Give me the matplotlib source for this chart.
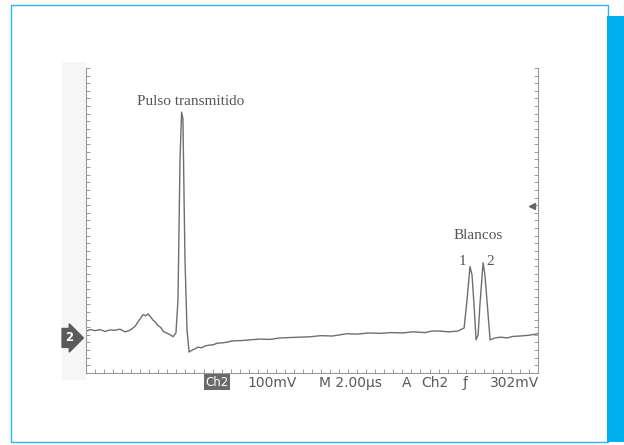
import numpy as np
import matplotlib.pyplot as plt
from matplotlib.patches import Rectangle

# oscilloscope trace, time in microseconds, voltage in mV (ground = 0)
t_us = [0.0, 0.20, 0.40, 0.62, 0.84, 1.06, 1.28, 1.50, 1.73, 1.90, 2.04, 2.18,
        2.30, 2.42, 2.52, 2.64, 2.74, 2.86, 2.96, 3.08, 3.19, 3.30, 3.41, 3.52,
        3.63, 3.74, 3.85, 3.98, 4.07, 4.16, 4.23, 4.29, 4.34, 4.38, 4.47, 4.56,
        4.64, 4.73, 4.84, 4.96, 5.10, 5.27, 5.44, 5.62, 5.80, 6.02, 6.24, 6.46,
        6.86, 7.26, 7.70, 8.14, 8.58, 9.02, 9.46, 9.91, 10.40, 10.90, 11.55,
        12.00, 12.50, 13.01, 13.50, 14.00, 14.47, 15.00, 15.30, 15.66, 16.06,
        16.46, 16.73, 16.86, 16.99, 17.08, 17.17, 17.26, 17.35, 17.43, 17.57,
        17.65, 17.74, 17.88, 18.10, 18.35, 18.63, 18.90, 19.20, 19.60, 20.0]
v_mv = [18, 22, 19, 22, 17, 21, 20, 23, 16, 19, 24, 31,
        42, 52, 61, 58, 63, 55, 47, 41, 32, 28, 18, 14,
        11, 8, 3, 13, 100, 468, 592, 574, 363, 205, 21, -37,
        -34, -31, -28, -24, -26, -21, -19, -18, -14, -13, -11, -8,
        -7, -5, -3, -4, 0, 1, 2, 3, 6, 5, 11,
        10, 13, 12, 14, 13, 16, 14, 18, 18, 16,
        18, 26, 100, 187, 166, 87, -5, 8, 87, 197,
        166, 100, -5, 0, 2, 0, 4, 5, 7, 11]

labels = [("Pulso transmitido", 4.65, 621),
          ("Blancos", 17.35, 268),
          ("1", 16.68, 200),
          ("2", 17.88, 200)]

trigger_t, trigger_v = 19.73, 345

readout = [("100mV", 272), ("M 2.00\u03bcs", 350), ("A", 407),
           ("Ch2", 435), ("\u0192", 465), ("302mV", 515)]

W, H = 624, 445
fig = plt.figure(figsize=(W / 100, H / 100), dpi=100)

# page frame and blue side bar
fig.patches.append(Rectangle((11 / W, 1 - 442 / H), 597 / W, 437 / H,
                             transform=fig.transFigure, fill=False,
                             ec='#29b6ec', lw=1.0, zorder=-1))
fig.patches.append(Rectangle((607 / W, 1 - 442 / H), 17 / W, 426 / H,
                             transform=fig.transFigure, fc='#00aeef', ec='none',
                             zorder=-1))
# faint grey strip left of the screen
fig.patches.append(Rectangle((62 / W, 1 - 380 / H), 24 / W, 318 / H,
                             transform=fig.transFigure, fc='#f6f6f6', ec='none',
                             zorder=-1))

ax = fig.add_axes([86 / W, 1 - 373 / H, 452 / W, 305 / H])
ax.patch.set_alpha(0)
ax.set_xlim(0, 20)
ax.set_ylim(-92, 708)

ax.plot(t_us, v_mv, color='#6e6e6e', lw=1.0)

ax.set_xticks(np.arange(0, 20.01, 0.4))
ax.set_yticks(np.arange(-92, 709, 20))
ax.tick_params(axis='both', direction='in', length=3, width=0.7,
               color='#9a9a9a', labelleft=False, labelbottom=False)
ax.tick_params(axis='y', right=True)
for s in ['left', 'right', 'bottom']:
    ax.spines[s].set_color('#9a9a9a')
    ax.spines[s].set_linewidth(0.8)
ax.spines['top'].set_visible(False)

for txt, x, y in labels:
    ax.text(x, y, txt, ha='center', va='center', fontsize=11,
            family='Liberation Serif', color='#555555')

ax.plot([trigger_t], [trigger_v], marker='<', ms=4, color='#666666')

# ground marker for channel 2
ax.text(-0.75, 0, '2', ha='center', va='center', fontsize=8.5, color='white',
        fontweight='bold', clip_on=False,
        bbox=dict(boxstyle='rarrow,pad=0.25', fc='#5a5a5a', ec='#5a5a5a'))

# readout line under the screen
fig.text(217 / W, 1 - 382 / H, 'Ch2', ha='center', va='center', fontsize=8.5,
         color='white', bbox=dict(boxstyle='square,pad=0.12', fc='#6a6a6a', ec='none'))
for txt, x in readout:
    fig.text(x / W, 1 - 383 / H, txt, ha='center', va='center', fontsize=10,
             color='#5a5a5a')

fig.savefig('out.png', dpi=100)
